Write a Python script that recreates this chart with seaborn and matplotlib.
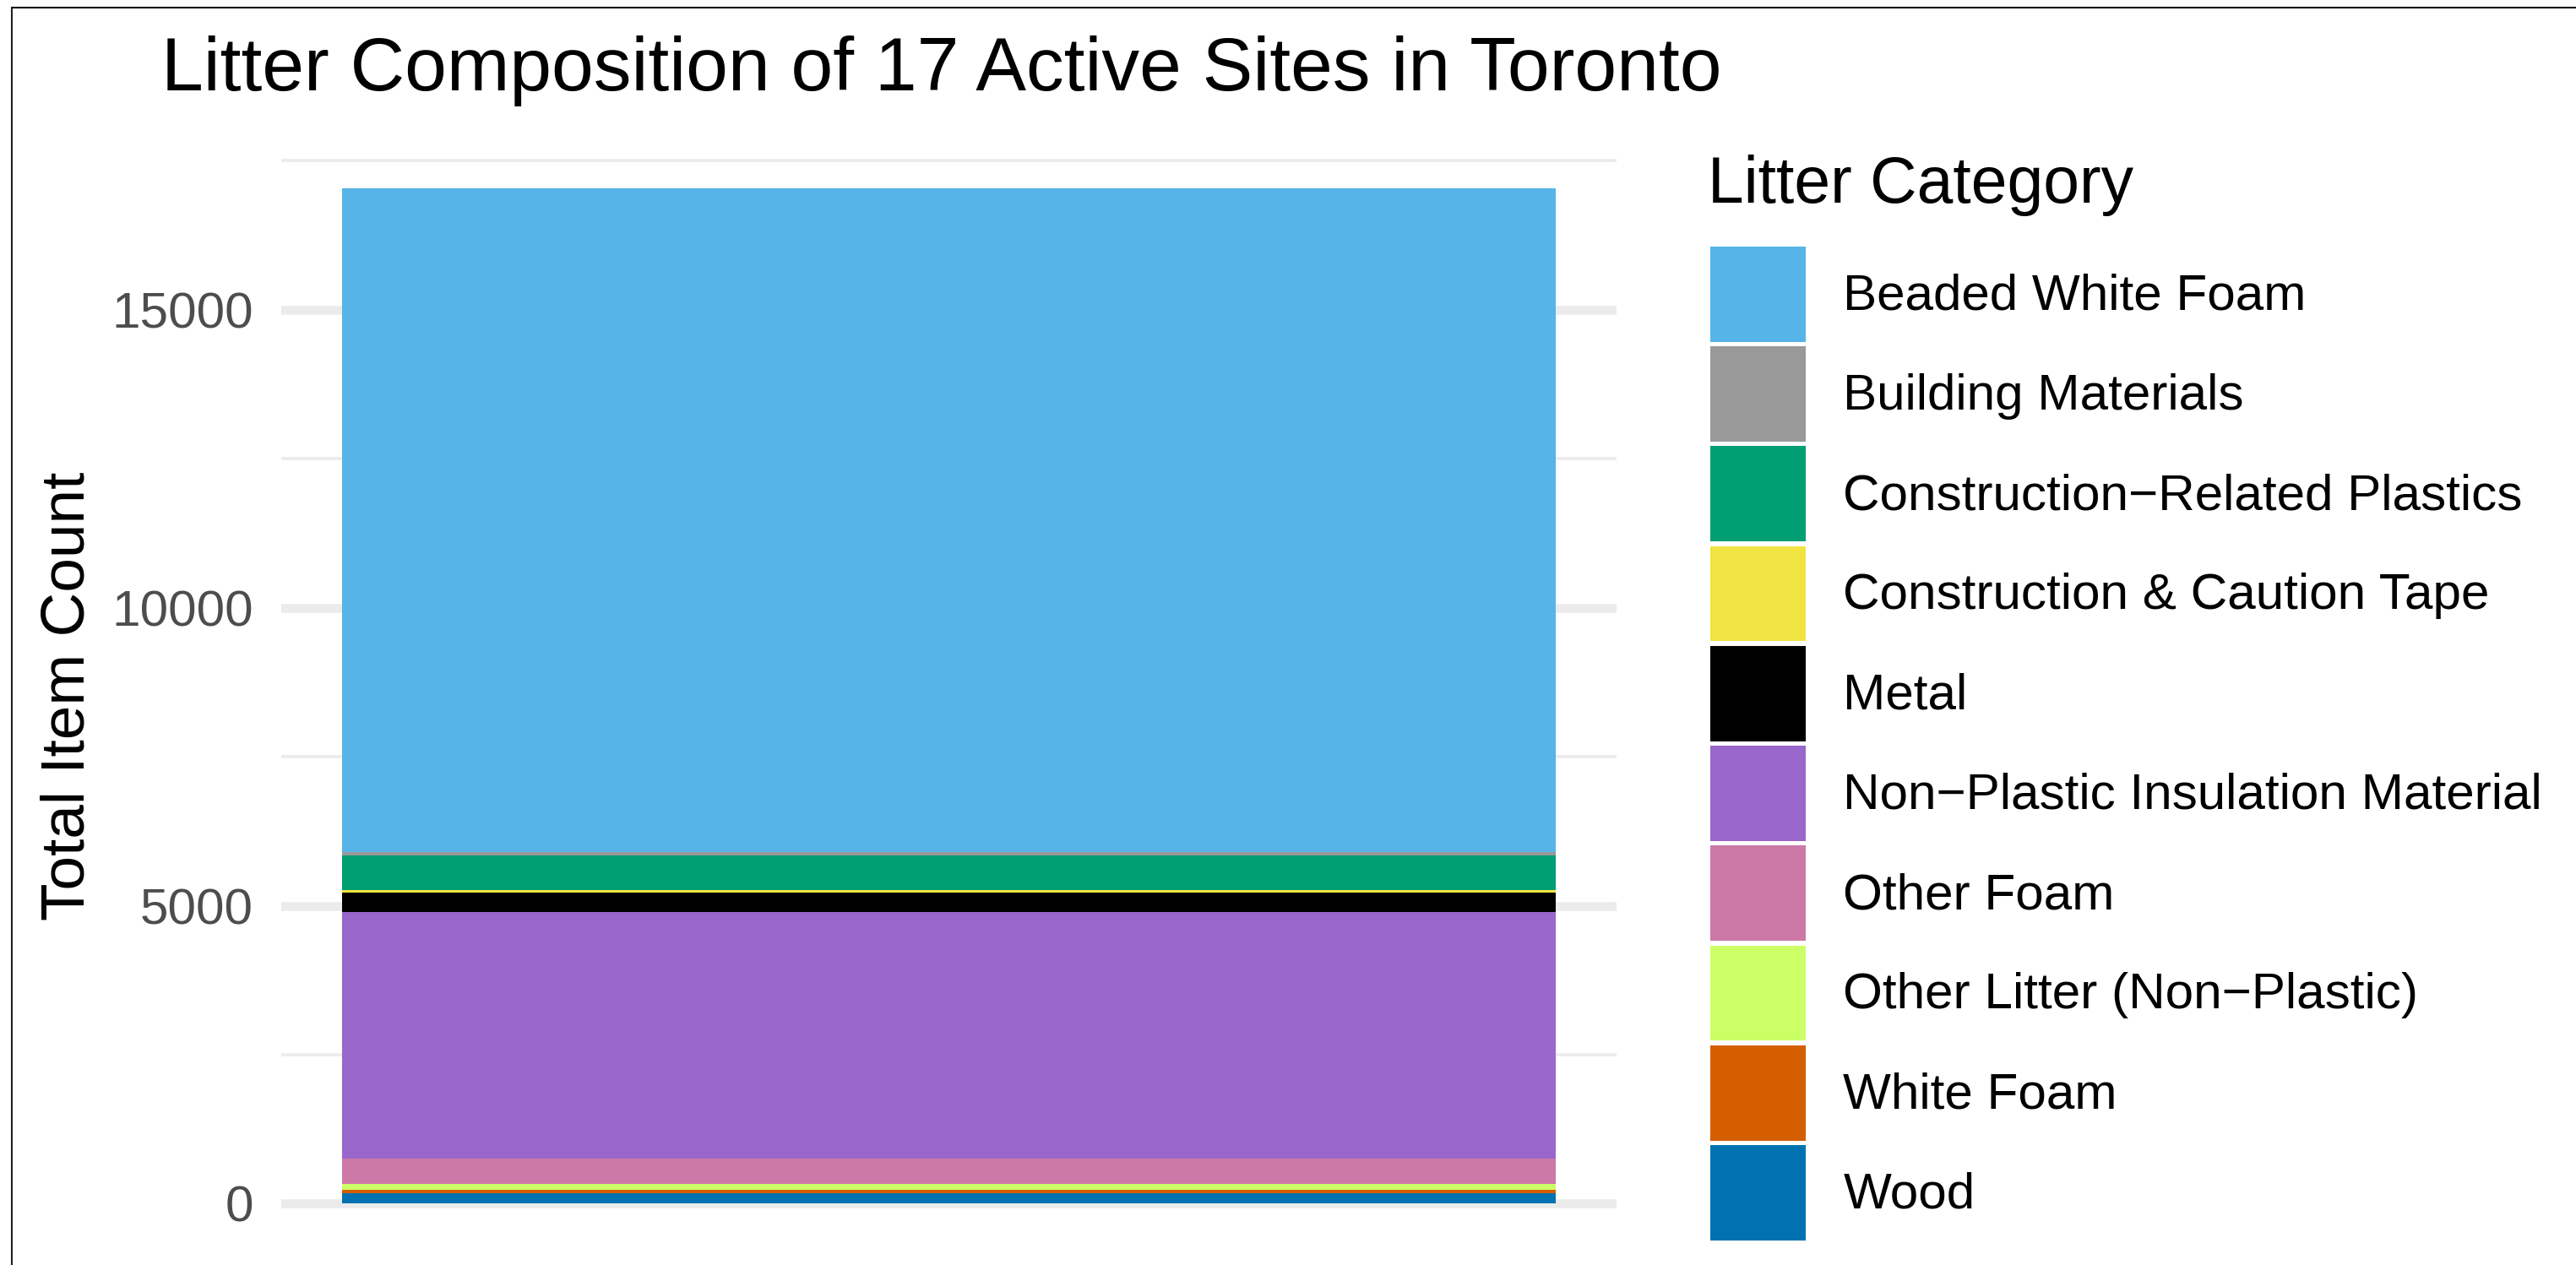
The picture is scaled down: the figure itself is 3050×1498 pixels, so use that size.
import numpy as np
import pandas as pd
import matplotlib
matplotlib.use("Agg")
import matplotlib.pyplot as plt
from matplotlib.patches import Patch
from matplotlib.lines import Line2D
import seaborn as sns

# Data (item counts per litter category)
categories = [
    "Beaded White Foam",
    "Building Materials",
    "Construction\u2212Related Plastics",
    "Construction & Caution Tape",
    "Metal",
    "Non\u2212Plastic Insulation Material",
    "Other Foam",
    "Other Litter (Non\u2212Plastic)",
    "White Foam",
    "Wood",
]
counts = [11138, 47, 581, 42, 340, 4137, 425, 99, 47, 180]
colors = ["#56B4E9", "#999999", "#009E73", "#F0E442", "#000000",
          "#9966CC", "#CC79A7", "#CCFF66", "#D55E00", "#0072B2"]
site = "Toronto"

sns.set_theme(style="white")
plt.rcParams["font.family"] = ["Liberation Sans", "DejaVu Sans"]
plt.rcParams["text.color"] = "black"

W, H, DPI = 3050, 1498, 200
fig = plt.figure(figsize=(W / DPI, H / DPI), dpi=DPI)
ax = fig.add_axes([333 / W, 1 - 1485.6 / H, (1914 - 333) / W, (1485.6 - 163) / H])

# stacked bar: draw cumulative heights from tallest to shortest so each overlays the previous
df = pd.DataFrame({"category": categories, "count": counts, "color": colors})
df["height"] = df["count"][::-1].cumsum()[::-1]
for _, row in df.iterrows():
    sns.barplot(x=[site], y=[row["height"]], color=row["color"], saturation=1,
                width=0.9, linewidth=0, ax=ax)

total = sum(counts)
ax.set_xlim(-0.495, 0.495)
ax.set_ylim(-0.05 * total, 1.05 * total)
ax.set_yticks([0, 5000, 10000, 15000])
ax.set_yticks([2500, 7500, 12500, 17500], minor=True)
ax.set_xticks([])
ax.set_xlabel("")
ax.grid(False)
ax.grid(which="major", axis="y", color="#EBEBEB", lw=3.8)
ax.grid(which="minor", axis="y", color="#EBEBEB", lw=1.3)
ax.set_axisbelow(True)
for s in ax.spines.values():
    s.set_visible(False)
ax.tick_params(axis="y", which="both", length=0, pad=11.9, labelsize=21.7, labelcolor="#4D4D4D")

ax.set_ylabel("Total Item Count", fontsize=26.3, color="black")
ax.yaxis.set_label_coords(-0.1385, 0.5)

fig.text(191 / W, 1 - 106.7 / H, "Litter Composition of 17 Active Sites in Toronto",
         fontsize=32.2, va="baseline", ha="left", color="black")

# legend
fig.text(2022 / W, 1 - 240 / H, "Litter Category", fontsize=27.7, va="baseline", ha="left",
         color="black")
handles = [Patch(facecolor=c, edgecolor="none") for c in colors]
leg = fig.legend(handles, categories, loc="upper left", bbox_to_anchor=(2025 / W, 1 - 292 / H),
                 frameon=False, fontsize=21.7, handlelength=1.87, handleheight=2.495,
                 labelspacing=0.095, handletextpad=0.74, borderpad=0, borderaxespad=0)
for t in leg.get_texts():
    t.set_color("black")

# screenshot frame (left and top edges)
fig.add_artist(Line2D([13.5 / W, 13.5 / W], [0, 1 - 9 / H], transform=fig.transFigure,
                      color="#222222", lw=0.75))
fig.add_artist(Line2D([13.5 / W, 1], [1 - 9 / H, 1 - 9 / H], transform=fig.transFigure,
                      color="#111111", lw=0.75))

fig.savefig("out.png", dpi=DPI)
